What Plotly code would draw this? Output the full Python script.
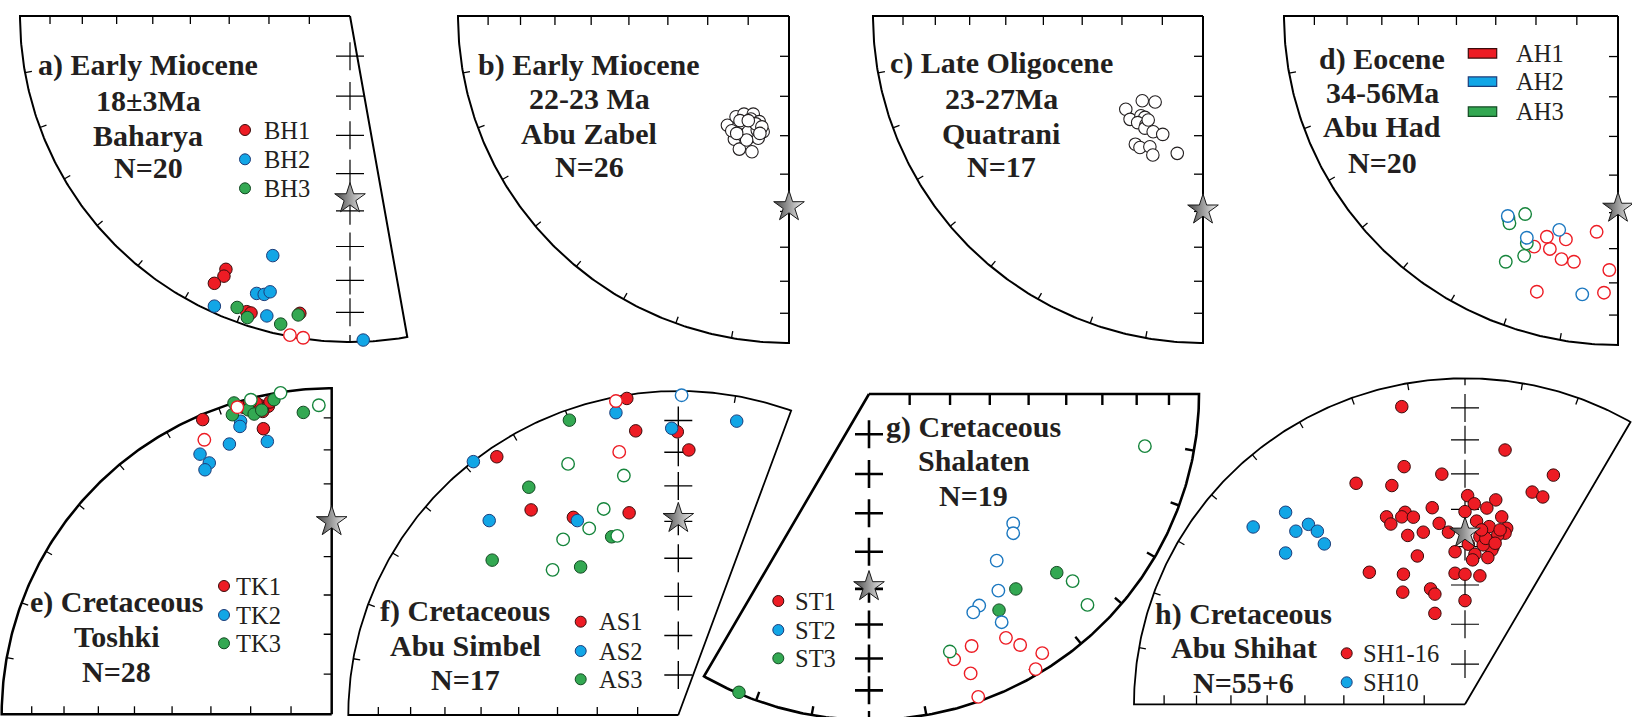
import math
import plotly.graph_objects as go

W, H = 1632, 717
SERIF = "Liberation Serif, Times New Roman, serif"
INK = "#231F20"

# ---------------------------------------------------------------------------
# Site mean directions, equal-area projection: x = east, y = north,
# 1.0 = primitive circle.  *_up = 1 marks upper-hemisphere (open) symbols.
# ---------------------------------------------------------------------------
# a) Baharya
BH1_x = [-0.376, -0.382, -0.411, -0.313, -0.300, -0.152, -0.182, -0.142]
BH1_y = [-0.777, -0.798, -0.820, -0.907, -0.911, -0.912, -0.979, -0.987]
BH1_up = [0, 0, 0, 0, 0, 0, 1, 1]
BH2_x = [-0.234, -0.283, -0.260, -0.242, -0.411, -0.252, 0.040]
BH2_y = [-0.735, -0.851, -0.854, -0.846, -0.890, -0.920, -0.994]
BH2_up = [0, 0, 0, 0, 0, 0, 0]
BH3_x = [-0.342, -0.311, -0.210, -0.157]
BH3_y = [-0.894, -0.925, -0.945, -0.917]
BH3_up = [0, 0, 0, 0]

# b) Abu Zabel
AZ_x = [-0.186, -0.160, -0.136, -0.108, -0.115, -0.090, -0.153, -0.133, -0.106,
        -0.078, -0.165, -0.140, -0.110, -0.093, -0.150, -0.112, -0.173, -0.123,
        -0.096, -0.148, -0.100, -0.128, -0.082, -0.158, -0.123, -0.088]
AZ_y = [-0.334, -0.308, -0.300, -0.300, -0.315, -0.323, -0.339, -0.340, -0.340,
        -0.354, -0.377, -0.364, -0.367, -0.374, -0.407, -0.415, -0.351, -0.354,
        -0.349, -0.320, -0.330, -0.379, -0.339, -0.359, -0.320, -0.359]
AZ_up = [1] * 26

# c) Quatrani
QT_x = [-0.234, -0.184, -0.145, -0.221, -0.188, -0.176, -0.198, -0.173, -0.176,
        -0.151, -0.122, -0.205, -0.191, -0.161, -0.152, -0.078, -0.166]
QT_y = [-0.285, -0.259, -0.263, -0.316, -0.305, -0.310, -0.326, -0.333, -0.343,
        -0.354, -0.362, -0.392, -0.402, -0.400, -0.425, -0.420, -0.318]
QT_up = [1] * 17

# d) Abu Had
AH1_x = [-0.213, -0.156, -0.251, -0.204, -0.169, -0.132, -0.064, -0.026, -0.243, -0.042]
AH1_y = [-0.671, -0.679, -0.701, -0.708, -0.739, -0.747, -0.656, -0.772, -0.838, -0.841]
AH1_up = [1] * 10
AH2_x = [-0.330, -0.273, -0.176, -0.107]
AH2_y = [-0.608, -0.674, -0.650, -0.846]
AH2_up = [1] * 4
AH3_x = [-0.328, -0.325, -0.278, -0.273, -0.281, -0.336]
AH3_y = [-0.615, -0.630, -0.602, -0.691, -0.729, -0.747]
AH3_up = [1] * 6

# e) Toshki
TK1_x = [-0.391, -0.207, -0.268, -0.219, -0.192, -0.209, -0.229, -0.187, -0.248, -0.386, -0.286]
TK1_y = [0.904, 0.876, 0.942, 0.948, 0.945, 0.929, 0.955, 0.958, 0.955, 0.842, 0.942]
TK1_up = [0, 0, 0, 0, 0, 0, 0, 0, 0, 1, 1]
TK2_x = [-0.399, -0.371, -0.384, -0.310, -0.276, -0.278, -0.195]
TK2_y = [0.798, 0.771, 0.750, 0.829, 0.899, 0.883, 0.837]
TK2_up = [0] * 7
TK3_x = [-0.296, -0.301, -0.253, -0.235, -0.212, -0.175, -0.086, -0.245, -0.155, -0.039]
TK3_y = [0.955, 0.919, 0.934, 0.921, 0.933, 0.965, 0.926, 0.965, 0.986, 0.948]
TK3_up = [0, 0, 0, 0, 0, 0, 0, 1, 1, 1]

# f) Abu Simbel
AS1_x = [-0.156, -0.129, -0.003, 0.032, -0.550, -0.446, -0.318, -0.149, -0.189, -0.179]
AS1_y = [0.977, 0.877, 0.874, 0.818, 0.797, 0.633, 0.610, 0.624, 0.969, 0.812]
AS1_up = [0, 0, 0, 0, 0, 0, 0, 0, 1, 1]
AS2_x = [-0.189, -0.020, 0.177, -0.621, -0.573, -0.306, 0.010]
AS2_y = [0.933, 0.885, 0.907, 0.782, 0.600, 0.600, 0.987]
AS2_up = [0, 0, 0, 0, 0, 0, 1]
AS3_x = [-0.330, -0.453, -0.202, -0.564, -0.296, -0.334, -0.165, -0.226, -0.270, -0.349, -0.185, -0.381]
AS3_y = [0.910, 0.703, 0.550, 0.478, 0.457, 0.775, 0.739, 0.636, 0.576, 0.542, 0.553, 0.448]
AS3_up = [0, 0, 0, 0, 0, 1, 1, 1, 1, 1, 1, 1]

# g) Shalaten
ST1_x = [0.311, 0.415, 0.458, 0.525, 0.258, 0.308, 0.505, 0.331]
ST1_y = [-0.773, -0.748, -0.770, -0.795, -0.814, -0.857, -0.844, -0.929]
ST1_up = [1] * 8
ST2_x = [0.437, 0.437, 0.387, 0.392, 0.334, 0.316, 0.402]
ST2_y = [-0.397, -0.427, -0.511, -0.603, -0.649, -0.670, -0.700]
ST2_up = [1] * 7
ST3_x = [0.569, 0.445, 0.394, -0.394, 0.617, 0.662, 0.245, 0.836]
ST3_y = [-0.548, -0.598, -0.663, -0.915, -0.574, -0.647, -0.790, -0.160]
ST3_up = [0, 0, 0, 0, 1, 1, 1, 1]

# h) Abu Shihat
SH116_x = [-0.191, 0.121, -0.184, -0.070, -0.329, -0.221, 0.267, 0.203, 0.235, 0.008,
           0.028, 0.093, 0.066, -0.099, -0.237, -0.181, -0.191, -0.156, -0.224, -0.078,
           0.000, 0.035, 0.111, 0.073, 0.126, 0.121, 0.099, -0.173, -0.126, -0.050,
           0.045, 0.070, 0.085, 0.081, 0.055, 0.010, -0.030, 0.030, 0.069, 0.023,
           -0.144, -0.289, -0.186, -0.030, 0.000, 0.045, -0.188, -0.104, -0.091, 0.000,
           -0.091, 0.063, 0.091, 0.106, 0.050]
SH116_y = [0.913, 0.780, 0.729, 0.706, 0.678, 0.671, 0.703, 0.651, 0.636, 0.640,
           0.615, 0.627, 0.602, 0.603, 0.575, 0.589, 0.575, 0.574, 0.553, 0.555,
           0.591, 0.562, 0.575, 0.545, 0.540, 0.525, 0.519, 0.518, 0.528, 0.528,
           0.514, 0.499, 0.483, 0.473, 0.489, 0.491, 0.468, 0.460, 0.450, 0.443,
           0.455, 0.405, 0.399, 0.402, 0.399, 0.394, 0.344, 0.354, 0.338, 0.318,
           0.279, 0.509, 0.494, 0.535, 0.535]
SH116_up = [0] * 55
SH10_x = [-0.542, -0.640, -0.511, -0.473, -0.446, -0.425, -0.542]
SH10_y = [0.589, 0.544, 0.531, 0.552, 0.531, 0.492, 0.464]
SH10_up = [0] * 7

# Expected direction (star) for each locality: declination, inclination
STAR_DEC = [180, 180, 180, 180, 0, 0, 180, 0]
STAR_INC = [43.3, 41.3, 40.4, 41.2, 40.6, 39.2, 40.6, 46.4]

# Inclination rings marked along the net axes
INC_STEPS = [10, 20, 30, 40, 50, 60, 70, 80]

# ---------------------------------------------------------------------------
STYLE = {
    "red":   dict(fill="#ED1C24", edge="#3a0b0b", open="#ED1C24"),
    "blue":  dict(fill="#12A6E6", edge="#1d3d7a", open="#1C78C0"),
    "green": dict(fill="#33A852", edge="#124a22", open="#16853C"),
    "black": dict(fill="white", edge=INK, open=INK),
}


def ea_radius(inc):
    """Equal-area (Schmidt) radial distance for an inclination."""
    return math.sqrt(2) * math.sin(math.radians((90 - abs(inc)) / 2))


PANELS = [
    dict(cx=350, cy=16, rx=330, ry=326, a0=180, a1=280, edges=[(180, 1)], cross=270,
         lw=2.0, tw=1.3, tl=8, al=7, cw=1.2,
         sites=[(BH1_x, BH1_y, BH1_up, "red"), (BH2_x, BH2_y, BH2_up, "blue"),
                (BH3_x, BH3_y, BH3_up, "green")],
         title=["a) Early Miocene", "18±3Ma", "Baharya", "N=20"], tx=148, ty=[65, 100, 135, 168],
         legend=dict(kind="dot", mx=245, tx=261.7, ys=[130, 159.3, 188.3],
                     labels=["BH1", "BH2", "BH3"], colors=["red", "blue", "green"])),
    dict(cx=789, cy=16, rx=331, ry=327, a0=180, a1=270, edges=[(180, 1), (270, -1)], cross=None,
         lw=2.0, tw=1.3, tl=9, al=7, cw=1.2,
         sites=[(AZ_x, AZ_y, AZ_up, "black")],
         title=["b) Early Miocene", "22-23 Ma", "Abu Zabel", "N=26"], tx=589, ty=[65, 98.3, 133.3, 166.7],
         legend=None),
    dict(cx=1203, cy=16, rx=330, ry=327, a0=180, a1=270, edges=[(180, 1), (270, -1)], cross=None,
         lw=2.0, tw=1.3, tl=9, al=7, cw=1.2,
         sites=[(QT_x, QT_y, QT_up, "black")],
         title=["c) Late Oligocene", "23-27Ma", "Quatrani", "N=17"], tx=1001, ty=[63.3, 99, 133.3, 166.7],
         legend=None),
    dict(cx=1618, cy=16, rx=334, ry=329, a0=180, a1=270, edges=[(180, 1), (270, -1)], cross=None,
         lw=2.0, tw=1.3, tl=9, al=7, cw=1.2,
         sites=[(AH1_x, AH1_y, AH1_up, "red"), (AH3_x, AH3_y, AH3_up, "green"),
                (AH2_x, AH2_y, AH2_up, "blue")],
         title=["d) Eocene", "34-56Ma", "Abu Had", "N=20"], tx=1382, ty=[58.5, 92.7, 126.7, 162.3],
         legend=dict(kind="box", mx=1482.5, tx=1514, ys=[53.3, 81.7, 111.7],
                     labels=["AH1", "AH2", "AH3"], colors=["red", "blue", "green"])),
    dict(cx=331.7, cy=714.3, rx=330, ry=326, a0=90, a1=180, edges=[(90, 1), (180, -1)], cross=None,
         lw=2.5, tw=1.3, tl=8, al=7, cw=1.2,
         sites=[(TK1_x, TK1_y, TK1_up, "red"), (TK2_x, TK2_y, TK2_up, "blue"),
                (TK3_x, TK3_y, TK3_up, "green")],
         title=["e) Cretaceous", "Toshki", "N=28"], tx=117, ty=[601.7, 636, 671.7],
         legend=dict(kind="dot", mx=224, tx=233.5, ys=[586, 615, 643.3],
                     labels=["TK1", "TK2", "TK3"], colors=["red", "blue", "green"])),
    dict(cx=678.3, cy=715, rx=330, ry=324, a0=70, a1=180, edges=[(180, -1)], cross=90,
         lw=1.8, tw=1.3, tl=8, al=7, cw=1.4,
         sites=[(AS1_x, AS1_y, AS1_up, "red"), (AS2_x, AS2_y, AS2_up, "blue"),
                (AS3_x, AS3_y, AS3_up, "green")],
         title=["f) Cretaceous", "Abu Simbel", "N=17"], tx=465.3, ty=[610.7, 645, 679.3],
         legend=dict(kind="dot", mx=580.7, tx=596.7, ys=[621.7, 651, 679.3],
                     labels=["AS1", "AS2", "AS3"], colors=["red", "blue", "green"])),
    dict(cx=869, cy=394, rx=330, ry=326, a0=240, a1=360, edges=[(360, -1)], cross=270,
         lw=2.6, tw=2.4, tl=11, al=9, cw=2.6,
         sites=[(ST1_x, ST1_y, ST1_up, "red"), (ST2_x, ST2_y, ST2_up, "blue"),
                (ST3_x, ST3_y, ST3_up, "green")],
         title=["g) Cretaceous", "Shalaten", "N=19"], tx=973.5, ty=[426.7, 461, 495],
         legend=dict(kind="dot", mx=778.3, tx=792.7, ys=[601, 630, 658.3],
                     labels=["ST1", "ST2", "ST3"], colors=["red", "blue", "green"])),
    dict(cx=1465, cy=704.3, rx=331, ry=326, a0=60, a1=180, edges=[(180, -1)], cross=90,
         lw=1.8, tw=1.3, tl=9, al=7, cw=1.2,
         sites=[(SH116_x, SH116_y, SH116_up, "red"), (SH10_x, SH10_y, SH10_up, "blue")],
         title=["h) Cretaceous", "Abu Shihat", "N=55+6"], tx=1243.5, ty=[614.3, 647.7, 682.3],
         legend=dict(kind="dot", mx=1346.7, tx=1360.7, ys=[653.3, 682.3],
                     labels=["SH1-16", "SH10"], colors=["red", "blue"])),
]

fig = go.Figure()
axes = {}
annotations = []
shapes = []

for i, P in enumerate(PANELS):
    n = i + 1
    xa, ya = ("x", "y") if n == 1 else (f"x{n}", f"y{n}")
    cx, cy, rx, ry = P["cx"], P["cy"], P["rx"], P["ry"]
    a0, a1 = P["a0"], P["a1"]

    def to_data(px, py):
        return (px - cx) / rx, (cy - py) / ry

    # sector outline: centre -> arc -> centre
    steps = int((a1 - a0) * 2)
    angs = [math.radians(a0 + k * 0.5) for k in range(steps + 1)]
    fx = [0.0] + [math.cos(t) for t in angs] + [0.0]
    fy = [0.0] + [math.sin(t) for t in angs] + [0.0]

    pxs = [cx + v * rx for v in fx]
    pys = [cy - v * ry for v in fy]
    pad = 16
    x0, x1 = max(0, min(pxs) - pad), min(W, max(pxs) + pad)
    y0, y1 = max(0, min(pys) - pad), min(H, max(pys) + pad)
    axes["xaxis" if n == 1 else f"xaxis{n}"] = dict(
        domain=[x0 / W, x1 / W], range=[(x0 - cx) / rx, (x1 - cx) / rx],
        visible=False, fixedrange=True, anchor=ya)
    axes["yaxis" if n == 1 else f"yaxis{n}"] = dict(
        domain=[1 - y1 / H, 1 - y0 / H], range=[(cy - y1) / ry, (cy - y0) / ry],
        visible=False, fixedrange=True, anchor=xa)

    fig.add_trace(go.Scatter(x=fx, y=fy, mode="lines", xaxis=xa, yaxis=ya,
                             line=dict(color="black", width=P["lw"]), showlegend=False))

    # ticks on the straight (axis) edges, pointing into the sector
    tx_, ty_ = [], []
    for phi, side in P["edges"]:
        p = math.radians(phi)
        nx, ny = (-math.sin(p), math.cos(p)) if side == 1 else (math.sin(p), -math.cos(p))
        for inc in INC_STEPS:
            r = ea_radius(inc)
            bx, by = r * math.cos(p), r * math.sin(p)
            tx_ += [bx, bx + P["tl"] * nx / rx, None]
            ty_ += [by, by + P["tl"] * ny / ry, None]
    # declination ticks on the primitive circle every 10 degrees
    t = (a0 // 10 + 1) * 10
    while t < a1:
        c, s = math.cos(math.radians(t)), math.sin(math.radians(t))
        tx_ += [c, c - P["al"] * c / rx, None]
        ty_ += [s, s - P["al"] * s / ry, None]
        t += 10
    fig.add_trace(go.Scatter(x=tx_, y=ty_, mode="lines", xaxis=xa, yaxis=ya,
                             line=dict(color="black", width=P["tw"]), showlegend=False))

    # crosses along the meridian running through the sector
    if P["cross"] is not None:
        p = math.radians(P["cross"])
        cxs = [ea_radius(inc) * math.cos(p) for inc in INC_STEPS]
        cys = [ea_radius(inc) * math.sin(p) for inc in INC_STEPS]
        fig.add_trace(go.Scatter(x=cxs, y=cys, mode="markers", xaxis=xa, yaxis=ya,
                                 marker=dict(symbol="cross-thin", size=20,
                                             line=dict(color="black", width=P["cw"])),
                                 cliponaxis=False, showlegend=False))

    # site directions: filled (lower hemisphere) first, then open symbols
    for want_up in (0, 1):
        for sx, sy, up, col in P["sites"]:
            st = STYLE[col]
            xs = [x for x, u in zip(sx, up) if u == want_up]
            ys = [y for y, u in zip(sy, up) if u == want_up]
            if not xs:
                continue
            if want_up:
                mk = dict(symbol="circle", size=12.5, color="white",
                          line=dict(color=st["open"], width=1.4 if col != "black" else 1.1))
            else:
                mk = dict(symbol="circle", size=12.5, color=st["fill"],
                          line=dict(color=st["edge"], width=1))
            fig.add_trace(go.Scatter(x=xs, y=ys, mode="markers", xaxis=xa, yaxis=ya,
                                     marker=mk, cliponaxis=False, showlegend=False))

    # expected direction
    d = math.radians(STAR_DEC[i])
    r = ea_radius(STAR_INC[i])
    fig.add_trace(go.Scatter(x=[r * math.sin(d)], y=[r * math.cos(d)], mode="markers",
                             xaxis=xa, yaxis=ya, cliponaxis=False, showlegend=False,
                             marker=dict(symbol="star", size=23, color="#454545",
                                         gradient=dict(type="horizontal", color="#f2f2f2"),
                                         line=dict(color="#1a1a1a", width=1))))

    # titles
    for line, yy in zip(P["title"], P["ty"]):
        annotations.append(dict(text=f"<b>{line}</b>", x=P["tx"] / W, y=1 - yy / H,
                                xref="paper", yref="paper", xanchor="center", yanchor="middle",
                                showarrow=False, font=dict(family=SERIF, size=30, color=INK)))

    # per-panel key
    L = P["legend"]
    if L:
        for lab, col, yy in zip(L["labels"], L["colors"], L["ys"]):
            st = STYLE[col]
            if L["kind"] == "dot":
                lx, ly = to_data(L["mx"], yy)
                fig.add_trace(go.Scatter(x=[lx], y=[ly], mode="markers", xaxis=xa, yaxis=ya,
                                         cliponaxis=False, showlegend=False,
                                         marker=dict(size=11, color=st["fill"],
                                                     line=dict(color=st["edge"], width=1))))
            else:
                bw, bh = 28.4, 9.5
                shapes.append(dict(type="rect", xref="paper", yref="paper",
                                   x0=(L["mx"] - bw / 2) / W, x1=(L["mx"] + bw / 2) / W,
                                   y0=1 - (yy + bh / 2) / H, y1=1 - (yy - bh / 2) / H,
                                   fillcolor=st["fill"], line=dict(color=st["edge"], width=1.2)))
            annotations.append(dict(text=lab, x=L["tx"] / W, y=1 - yy / H,
                                    xref="paper", yref="paper", xanchor="left", yanchor="middle",
                                    showarrow=False, font=dict(family=SERIF, size=24.5, color=INK)))

fig.update_layout(width=W, height=H, margin=dict(l=0, r=0, t=0, b=0),
                  paper_bgcolor="white", plot_bgcolor="rgba(0,0,0,0)",
                  showlegend=False, hovermode=False,
                  annotations=annotations, shapes=shapes, **axes)

fig.write_html("out.html")
